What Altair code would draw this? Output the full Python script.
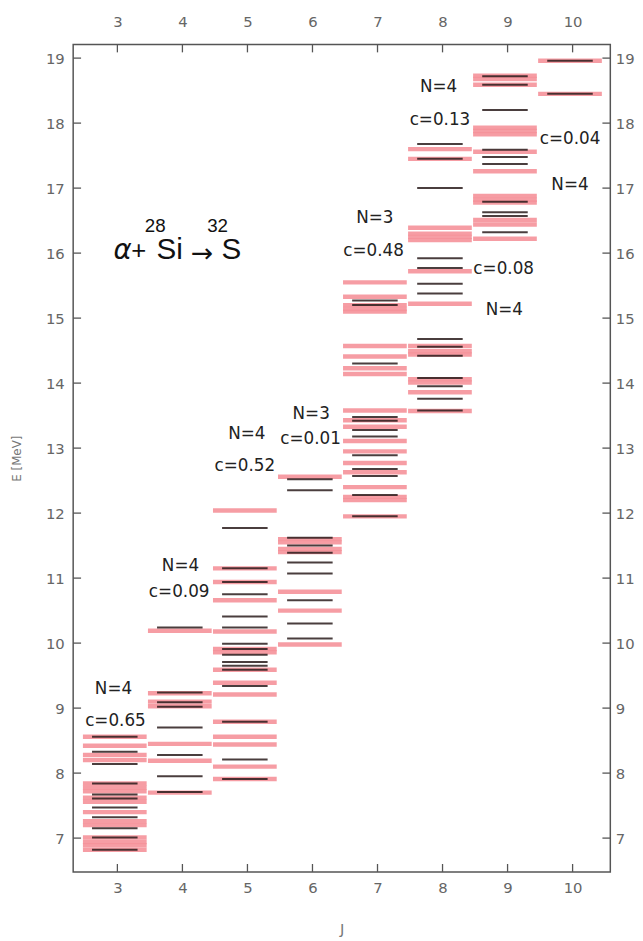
import altair as alt
import pandas as pd

# ---- data ----
J_TICKS = [3, 4, 5, 6, 7, 8, 9, 10]
E_TICKS = [7, 8, 9, 10, 11, 12, 13, 14, 15, 16, 17, 18, 19]

pink_J3 = [8.56, 8.42, 8.28, 8.20, 7.84, 7.78, 7.72, 7.62, 7.56, 7.40, 7.26, 7.20, 7.01, 6.94, 6.89, 6.82]
dark_J3 = [8.56, 8.33, 8.14, 7.84, 7.67, 7.61, 7.47, 7.32, 7.15, 7.01, 6.82]
pink_J4 = [10.19, 9.23, 9.10, 9.03, 8.45, 8.19, 7.70]
dark_J4 = [10.24, 9.24, 9.09, 9.02, 8.70, 8.28, 7.95, 7.71]
pink_J5 = [12.04, 11.15, 10.94, 10.66, 10.18, 9.91, 9.86, 9.59, 9.39, 9.21, 8.79, 8.56, 8.44, 8.10, 7.91]
dark_J5 = [11.77, 11.15, 10.94, 10.75, 10.41, 10.24, 9.99, 9.91, 9.82, 9.71, 9.65, 9.59, 9.34, 8.79, 8.21, 7.91]
pink_J6 = [12.56, 11.60, 11.55, 11.45, 11.40, 10.79, 10.50, 9.98]
dark_J6 = [12.52, 12.35, 11.62, 11.50, 11.39, 11.24, 11.07, 10.66, 10.30, 10.07]
pink_J7 = [15.55, 15.33, 15.20, 15.14, 15.10, 14.57, 14.41, 14.23, 14.14, 13.58, 13.43, 13.33,
           13.11, 12.95, 12.77, 12.63, 12.40, 12.25, 12.20, 11.95]
dark_J7 = [15.27, 15.20, 14.30, 13.48, 13.42, 13.28, 13.18, 12.89, 12.68, 12.57, 12.28, 11.95]
pink_J8 = [17.60, 17.45, 16.39, 16.30, 16.25, 16.20, 15.72, 15.22, 14.57, 14.49, 14.44, 14.06,
           14.01, 13.86, 13.57]
dark_J8 = [17.68, 17.45, 17.00, 15.92, 15.77, 15.53, 15.38, 14.68, 14.56, 14.42, 14.08, 13.95,
           13.76, 13.58]
pink_J9 = [18.73, 18.68, 18.59, 17.93, 17.88, 17.83, 17.56, 17.26, 16.88, 16.82, 16.78, 16.51,
           16.44, 16.22]
dark_J9 = [18.72, 18.59, 18.20, 17.59, 17.48, 17.37, 16.79, 16.63, 16.57, 16.32]
pink_J10 = [18.96, 18.45]
dark_J10 = [18.96, 18.45]

note_text = ["N=4", "c=0.65", "N=4", "c=0.09", "N=4", "c=0.52", "N=3", "c=0.01",
             "N=3", "c=0.48", "N=4", "c=0.13", "c=0.08", "N=4", "c=0.04", "N=4"]
note_J = [2.94, 2.97, 3.97, 3.95, 4.99, 4.96, 5.98, 5.97,
          6.96, 6.94, 7.94, 7.96, 8.94, 8.95, 9.96, 9.96]
note_E = [9.29, 8.80, 11.19, 10.79, 13.21, 12.73, 13.52, 13.14,
          16.54, 16.03, 18.56, 18.04, 15.76, 15.13, 17.75, 17.04]

# reaction label pieces: alpha + 28Si -> 32S
alpha_text = ["α"]
alpha_J = [2.94]
alpha_E = [15.91]
rx_text = ["+", "28", "Si", "32", "S"]
rx_J = [3.215, 3.42, 3.60, 4.38, 4.60]
rx_E = [15.91, 16.32, 15.91, 16.32, 15.91]
rx_size = [26, 19, 30, 19, 30]
arrow_text = ["→"]
arrow_J = [4.13]
arrow_E = [15.87]

X_DOMAIN = [2.32, 10.58]
Y_DOMAIN = [6.48, 19.21]
W, H = 544, 838

pink_sets = {3: pink_J3, 4: pink_J4, 5: pink_J5, 6: pink_J6, 7: pink_J7, 8: pink_J8, 9: pink_J9, 10: pink_J10}
dark_sets = {3: dark_J3, 4: dark_J4, 5: dark_J5, 6: dark_J6, 7: dark_J7, 8: dark_J8, 9: dark_J9, 10: dark_J10}

pink_df = pd.DataFrame([{"J": j, "E": e} for j, es in pink_sets.items() for e in es])
dark_df = pd.DataFrame([{"J": j, "E": e} for j, es in dark_sets.items() for e in es])
note_df = pd.DataFrame({"J": note_J, "E": note_E, "t": note_text})
alpha_df = pd.DataFrame({"J": alpha_J, "E": alpha_E, "t": alpha_text})
rx_df = pd.DataFrame({"J": rx_J, "E": rx_E, "t": rx_text, "s": rx_size})
arrow_df = pd.DataFrame({"J": arrow_J, "E": arrow_E, "t": arrow_text})
jt_df = pd.DataFrame({"J": J_TICKS})
et_df = pd.DataFrame({"E": E_TICKS})

xs = alt.Scale(domain=X_DOMAIN, nice=False, zero=False)
ys = alt.Scale(domain=Y_DOMAIN, nice=False, zero=False)

LABEL = dict(labelFont="DejaVu Sans", labelFontSize=15, labelColor="#666666",
             grid=False, domain=False, ticks=False)

x_bottom = alt.Axis(orient="bottom", values=J_TICKS, title="J", labelPadding=9,
                    titleFont="DejaVu Sans", titleFontSize=15, titleColor="#777777",
                    titleFontWeight="normal", titlePadding=26, **LABEL)
y_left = alt.Axis(orient="left", values=E_TICKS, title="E [MeV]", labelPadding=9,
                  titleFont="DejaVu Sans", titleFontSize=12, titleColor="#777777",
                  titleFontWeight="normal", titlePadding=22, **LABEL)

pink = alt.Chart(pink_df).transform_calculate(
    x1="datum.J - 0.04 - 0.49", x2="datum.J - 0.04 + 0.49"
).mark_rule(color="#f5929a", strokeWidth=4.5, opacity=0.9).encode(
    x=alt.X("x1:Q", scale=xs, axis=x_bottom),
    x2="x2:Q",
    y=alt.Y("E:Q", scale=ys, axis=y_left),
)

dark = alt.Chart(dark_df).transform_calculate(
    x1="datum.J - 0.04 - 0.35", x2="datum.J - 0.04 + 0.35"
).mark_rule(color="#2a1c1c", strokeWidth=2, opacity=0.85).encode(
    x=alt.X("x1:Q", scale=xs, axis=None),
    x2="x2:Q",
    y=alt.Y("E:Q", scale=ys, axis=None),
)

notes = alt.Chart(note_df).mark_text(
    font="DejaVu Sans", fontSize=17, color="#222222", baseline="middle", align="center"
).encode(
    x=alt.X("J:Q", scale=xs, axis=None),
    y=alt.Y("E:Q", scale=ys, axis=None),
    text="t:N",
)

alpha = alt.Chart(alpha_df).mark_text(
    font="DejaVu Sans", fontSize=28, fontStyle="italic", color="#111111",
    baseline="alphabetic", align="left"
).encode(
    x=alt.X("J:Q", scale=xs, axis=None),
    y=alt.Y("E:Q", scale=ys, axis=None),
    text="t:N",
)

rx = alt.Chart(rx_df).mark_text(
    font="Liberation Sans", color="#111111", baseline="alphabetic", align="left"
).encode(
    x=alt.X("J:Q", scale=xs, axis=None),
    y=alt.Y("E:Q", scale=ys, axis=None),
    text="t:N",
    size=alt.Size("s:Q", scale=None, legend=None),
)

arrow = alt.Chart(arrow_df).mark_text(
    font="DejaVu Sans", fontSize=27, color="#111111", baseline="alphabetic", align="left"
).encode(
    x=alt.X("J:Q", scale=xs, axis=None),
    y=alt.Y("E:Q", scale=ys, axis=None),
    text="t:N",
)

TICK_COLOR = "#555555"
bottom_ticks = alt.Chart(jt_df).mark_rule(color=TICK_COLOR, strokeWidth=1.3).encode(
    x=alt.X("J:Q", scale=xs, axis=None),
    y=alt.value(H), y2=alt.value(H - 8),
)
top_ticks = alt.Chart(jt_df).mark_rule(color=TICK_COLOR, strokeWidth=1.3).encode(
    x=alt.X("J:Q", scale=xs, axis=alt.Axis(orient="top", values=J_TICKS, title=None,
                                            labelPadding=15, **LABEL)),
    y=alt.value(0), y2=alt.value(8),
)
left_ticks = alt.Chart(et_df).mark_rule(color=TICK_COLOR, strokeWidth=1.3).encode(
    y=alt.Y("E:Q", scale=ys, axis=None),
    x=alt.value(0), x2=alt.value(8),
)
right_ticks = alt.Chart(et_df).mark_rule(color=TICK_COLOR, strokeWidth=1.3).encode(
    y=alt.Y("E:Q", scale=ys, axis=alt.Axis(orient="right", values=E_TICKS, title=None,
                                            labelPadding=5, **LABEL)),
    x=alt.value(W), x2=alt.value(W - 8),
)

chart = alt.layer(
    pink, dark, notes, alpha, rx, arrow, bottom_ticks, top_ticks, left_ticks, right_ticks
).resolve_axis(x="independent", y="independent").properties(
    width=W, height=H,
    background="white",
    autosize=alt.AutoSizeParams(type="none"),
    padding={"left": 66, "top": 31, "right": 25, "bottom": 60},
).configure_view(stroke="#555555", strokeWidth=1.5)

chart.save("out.html", embed_options={"renderer": "svg", "actions": False})
